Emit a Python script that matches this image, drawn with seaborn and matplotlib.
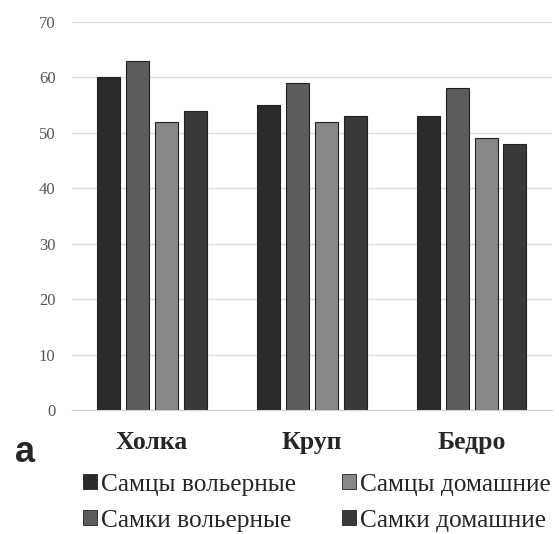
import matplotlib
matplotlib.use("Agg")
import matplotlib.pyplot as plt
import seaborn as sns
import pandas as pd
from matplotlib.patches import Patch

categories = ["Холка", "Круп", "Бедро"]
series = ["Самцы вольерные", "Самки вольерные", "Самцы домашние", "Самки домашние"]
males_aviary = [60, 55, 53]
females_aviary = [63, 59, 58]
males_home = [52, 52, 49]
females_home = [54, 53, 48]

colors = ["#2a2a2a", "#5c5c5c", "#878787", "#393939"]

values = [males_aviary, females_aviary, males_home, females_home]
rows = []
for s, vals in zip(series, values):
    for c, v in zip(categories, vals):
        rows.append({"part": c, "group": s, "value": v})
df = pd.DataFrame(rows)

sns.set_style("white")
plt.rcParams["font.family"] = ["Liberation Serif", "DejaVu Serif"]

fig = plt.figure(figsize=(5.59, 5.34), dpi=100)
ax = fig.add_axes([0.129, 0.232, 0.858, 0.727])

sns.barplot(
    data=df, x="part", y="value", hue="group",
    hue_order=series, order=categories,
    palette=colors, width=0.72, gap=0.2,
    edgecolor="#222222", linewidth=0.8,
    legend=False, ax=ax
)

ax.set_ylim(0, 70)
ax.set_xlim(-0.5, 2.5)
ax.set_yticks(range(0, 71, 10))
ax.yaxis.grid(True, color="#dcdcdc", linewidth=1)
ax.set_axisbelow(True)
for side in ["top", "right", "left"]:
    ax.spines[side].set_visible(False)
ax.spines["bottom"].set_color("#d0d0d0")
ax.tick_params(axis="y", length=0, pad=12, labelsize=12, labelcolor="#555555")
ax.tick_params(axis="x", length=0, pad=15, labelsize=18.5)
for lab in ax.get_xticklabels():
    lab.set_fontweight("bold")
ax.set_xlabel("")
ax.set_ylabel("")

fig.text(0.027, 0.152, "a", fontsize=26, fontweight="bold",
         family=["Liberation Sans"], va="center")

handles = [Patch(facecolor=c, edgecolor="#222222", linewidth=0.6) for c in colors]
fig.legend(handles, series, ncol=2, loc="upper left",
           bbox_to_anchor=(0.126, 0.137), frameon=False, borderpad=0,
           fontsize=18.3, handlelength=0.56, handleheight=0.56,
           handletextpad=0.15, columnspacing=1.8, labelspacing=0.55)

fig.savefig("out.png", dpi=100)
